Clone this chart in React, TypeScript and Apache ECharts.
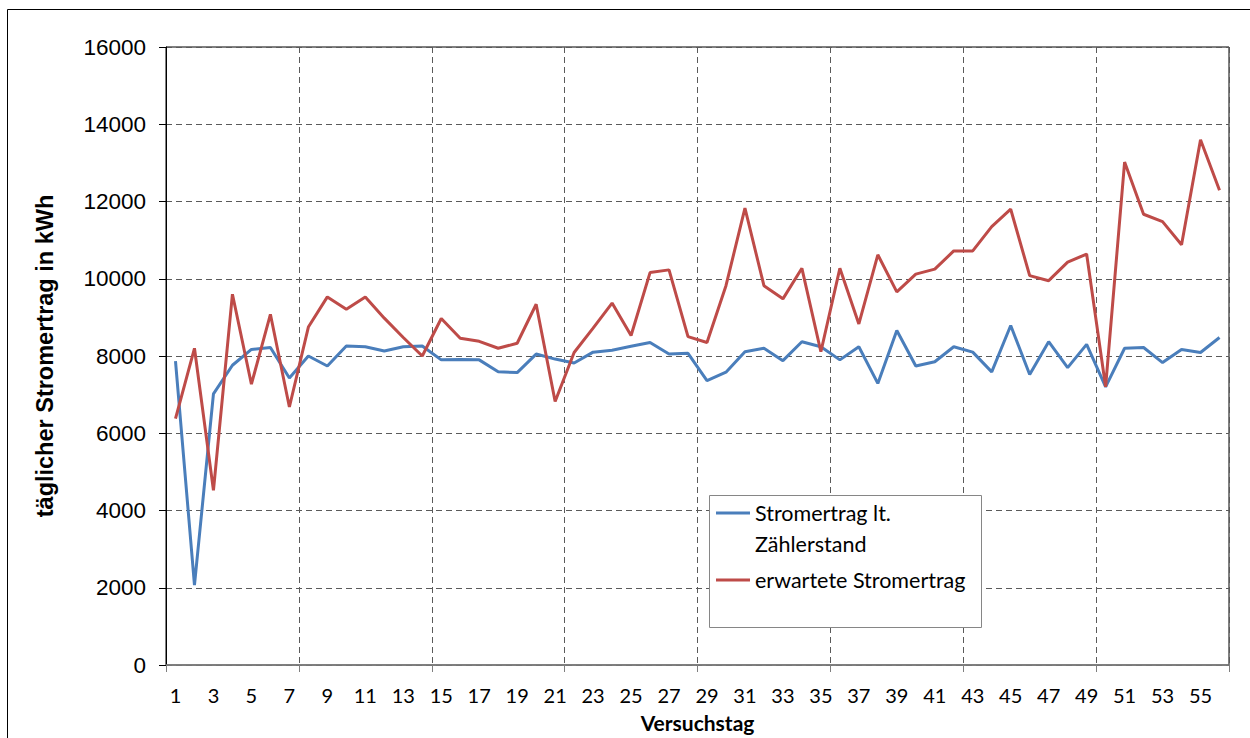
import React, { useEffect, useRef } from "react";
import * as echarts from "echarts";

// Test days 1..56
const days: string[] = Array.from({ length: 56 }, (_, i) => String(i + 1));

// Daily yield according to the meter reading (kWh)
const meterYield: number[] = [
  7870, 2070, 7020, 7760, 8170, 8220, 7430, 8000, 7740, 8260,
  8240, 8130, 8240, 8260, 7900, 7910, 7900, 7590, 7570, 8050,
  7920, 7820, 8100, 8150, 8250, 8350, 8050, 8070, 7360, 7580,
  8110, 8200, 7880, 8370, 8240, 7900, 8240, 7290, 8660, 7740,
  7850, 8240, 8100, 7590, 8790, 7520, 8370, 7700, 8300, 7200,
  8200, 8220, 7830, 8170, 8090, 8480,
];

// Expected daily yield (kWh)
const expectedYield: number[] = [
  6380, 8200, 4520, 9600, 7270, 9080, 6680, 8750, 9530, 9210,
  9530, 8980, 8480, 8000, 8970, 8460, 8380, 8200, 8330, 9340,
  6820, 8090, 8720, 9370, 8530, 10160, 10230, 8500, 8350, 9820,
  11830, 9820, 9480, 10270, 8110, 10270, 8830, 10620, 9660, 10120,
  10250, 10720, 10720, 11350, 11800, 10080, 9950, 10430, 10640, 7200,
  13020, 11670, 11480, 10880, 13600, 12290,
];

const yMin = 0;
const yMax = 16000;
const yStep = 2000;

const seriesNames = ["Stromertrag lt. Zählerstand", "erwartete Stromertrag"];
const seriesColors = ["#4a7ebb", "#be4b48"];

export default function App() {
  const ref = useRef<HTMLDivElement>(null);

  useEffect(() => {
    if (!ref.current) return;
    const chart = echarts.init(ref.current, undefined, { renderer: "svg" });

    const gridLine = { color: "#5a5a5a", type: [6, 4] as number[], width: 1 };

    chart.setOption({
      animation: false,
      backgroundColor: "#fff",
      grid: {
        left: 166,
        right: 21,
        top: 47,
        bottom: 73,
        outerBoundsMode: "none",
        containLabel: false,
        show: true,
        borderColor: "#000",
        borderWidth: 1,
        backgroundColor: "transparent",
      },
      xAxis: {
        type: "category",
        data: days,
        boundaryGap: true,
        axisLine: { lineStyle: { color: "#7f7f7f", width: 1.5 } },
        axisTick: { show: true, interval: 6, length: 7, lineStyle: { color: "#7f7f7f" } },
        axisLabel: {
          interval: 1,
          margin: 20,
          fontFamily: "Lato",
          fontSize: 20,
          color: "#000",
        },
        splitLine: { show: true, interval: 6, lineStyle: gridLine },
        name: "Versuchstag",
        nameLocation: "middle",
        nameGap: 47,
        nameTextStyle: {
          fontFamily: "Lato",
          fontWeight: "bold",
          fontSize: 21,
          color: "#000",
        },
      },
      yAxis: {
        type: "value",
        min: yMin,
        max: yMax,
        interval: yStep,
        axisLine: { show: true, lineStyle: { color: "#000" } },
        axisTick: { show: true, length: 7, lineStyle: { color: "#000" } },
        axisLabel: {
          margin: 20,
          fontFamily: "Liberation Sans",
          fontSize: 22.5,
          color: "#000",
          formatter: (v: number) => String(v),
        },
        splitLine: { show: true, lineStyle: gridLine },
        name: "täglicher Stromertrag in kWh",
        nameLocation: "middle",
        nameGap: 109,
        nameTextStyle: {
          fontFamily: "Liberation Sans",
          fontWeight: "bold",
          fontSize: 23.5,
          color: "#000",
        },
      },
      legend: {
        orient: "vertical",
        left: 716,
        top: 501,
        padding: 0,
        itemGap: 43,
        itemWidth: 34,
        itemHeight: 3,
        icon: "rect",
        z: 5,
        data: seriesNames,
        formatter: (name: string) =>
          name === seriesNames[0] ? "Stromertrag lt." : name,
        textStyle: {
          fontFamily: "Lato",
          fontSize: 21.5,
          lineHeight: 24,
          color: "#000",
        },
      },
      graphic: [
        {
          type: "rect",
          z: 0,
          silent: true,
          shape: { x: 7.5, y: 9.5, width: 1260, height: 760 },
          style: { fill: "none", stroke: "#000", lineWidth: 1 },
        },
        {
          type: "rect",
          z: 3,
          silent: true,
          shape: { x: 709.5, y: 495.5, width: 272, height: 132 },
          style: { fill: "#fff", stroke: "#868686", lineWidth: 1 },
        },
        {
          type: "text",
          z: 6,
          silent: true,
          x: 755,
          y: 544,
          style: {
            text: "Zählerstand",
            font: "21.5px Lato",
            fill: "#000",
            verticalAlign: "middle",
          },
        },
      ],
      series: [
        {
          name: seriesNames[0],
          type: "line",
          data: meterYield,
          symbol: "none",
          z: 2,
          lineStyle: { color: seriesColors[0], width: 3 },
          itemStyle: { color: seriesColors[0] },
        },
        {
          name: seriesNames[1],
          type: "line",
          data: expectedYield,
          symbol: "none",
          z: 2,
          lineStyle: { color: seriesColors[1], width: 3 },
          itemStyle: { color: seriesColors[1] },
        },
      ],
    });

    return () => chart.dispose();
  }, []);

  return (
    <div
      ref={ref}
      style={{ position: "fixed", left: 0, top: 0, width: 1250, height: 738 }}
    />
  );
}
